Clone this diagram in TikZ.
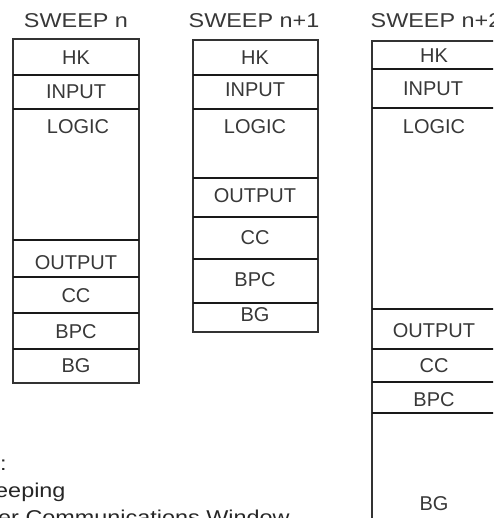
\documentclass[tikz,border=0pt]{standalone}
\usepackage{fontspec}
\setmainfont{Liberation Sans}
\begin{document}
\begin{tikzpicture}[x=1pt,y=-1pt,
  outline/.style={draw=black!80,line width=1.2pt},
  sep/.style={draw=black!90,line width=1.6pt},
  lbl/.style={font=\fontsize{20}{24}\selectfont,text=black!78,inner sep=0pt,anchor=center},
  ttl/.style={lbl,xscale=1.17,transform shape},
  legend/.style={font=\fontsize{20}{24}\selectfont,text=black!85,inner sep=0pt,anchor=base west,xscale=1.17,transform shape}]
\useasboundingbox (0,0) rectangle (493,518);
\clip (0,0) rectangle (493,518);
% column 1
\draw[outline] (13,39) rectangle (139,383);
\foreach \y in {75,109,240,277,313,349} \draw[sep] (13,\y) -- (139,\y);
\node[ttl] (t1) at (76,21) {SWEEP n};
\node[lbl] (a1) at (76,58) {HK};
\node[lbl] (b1) at (76,92) {INPUT};
\node[lbl] (c1) at (78,127) {LOGIC};
\node[lbl] (d1) at (76,263) {OUTPUT};
\node[lbl] (e1) at (76,296) {CC};
\node[lbl] (f1) at (76,332) {BPC};
\node[lbl] (g1) at (76,366) {BG};
% column 2
\draw[outline] (193,40) rectangle (318,332);
\foreach \y in {75,109,178,217,259,303} \draw[sep] (193,\y) -- (318,\y);
\node[ttl] (t2) at (254,21) {SWEEP n+1};
\node[lbl] (a2) at (255,58) {HK};
\node[lbl] (b2) at (255,90) {INPUT};
\node[lbl] (c2) at (255,127) {LOGIC};
\node[lbl] (d2) at (255,196) {OUTPUT};
\node[lbl] (e2) at (255,238) {CC};
\node[lbl] (f2) at (255,280) {BPC};
\node[lbl] (g2) at (255,315) {BG};
% column 3
\draw[outline] (372,41) rectangle (496,540);
\foreach \y in {69,108,309,349,382,413} \draw[sep] (372,\y) -- (496,\y);
\node[ttl] (t3) at (436,21) {SWEEP n+2};
\node[lbl] (a3) at (434,56) {HK};
\node[lbl] (b3) at (433,89) {INPUT};
\node[lbl] (c3) at (434,127) {LOGIC};
\node[lbl] (d3) at (434,331) {OUTPUT};
\node[lbl] (e3) at (434,366) {CC};
\node[lbl] (f3) at (434,400) {BPC};
\node[lbl] (g3) at (434,504) {BG};
% legend (cut off at the left and bottom, as in the reference)
\node[legend] (k1) at (0,470) {:};
\node[legend] (k2) at (-5,497) {eeping};
\node[legend] (k3) at (-2,524) {er Communications Window};
\end{tikzpicture}
\end{document}
